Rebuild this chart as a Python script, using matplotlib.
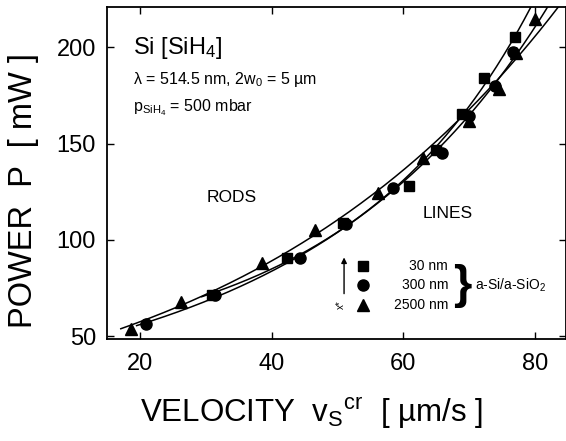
import numpy as np
import matplotlib
matplotlib.use("Agg")
import matplotlib.pyplot as plt

plt.rcParams['font.family'] = ['Liberation Sans', 'DejaVu Sans']
plt.rcParams['mathtext.fontset'] = 'custom'
plt.rcParams['mathtext.rm'] = 'Liberation Sans'
plt.rcParams['mathtext.it'] = 'Liberation Sans'

# critical velocity (um/s) and laser power (mW)
v_30 = [30.9, 42.3, 50.9, 60.8, 64.9, 68.9, 72.2, 76.9]
p_30 = [71.3, 90.4, 108.7, 127.8, 146.6, 165.2, 184.0, 205.2]
v_300 = [21.0, 31.4, 44.3, 51.3, 58.5, 65.8, 69.9, 73.9, 76.7]
p_300 = [56.5, 71.3, 90.4, 108.3, 127.0, 145.2, 164.3, 180.0, 197.4]
v_2500 = [18.6, 26.3, 38.5, 46.6, 56.2, 63.0, 69.9, 74.5, 77.1, 80.0]
p_2500 = [53.9, 67.8, 87.8, 105.2, 124.3, 142.6, 161.7, 178.3, 197.0, 214.8]

thickness = ['30 nm', '300 nm', '2500 nm']
markers = ['s', 'o', '^']
msizes = [7, 8, 8.5]

fig = plt.figure(figsize=(5.66, 4.41), dpi=100)
ax = fig.add_axes([0.189, 0.231, 0.811, 0.753])

series = [(v_30, p_30), (v_300, p_300), (v_2500, p_2500)]
for (v, p), m, ms in zip(series, markers, msizes):
    # smooth guide to the eye: quadratic fit of log(P)
    coef = np.polyfit(v, np.log(p), 2)
    vv = np.linspace(min(v) - 1.5, 84, 300)
    ax.plot(vv, np.exp(np.polyval(coef, vv)), color='black', lw=1.1, zorder=2)
    ax.plot(v, p, ls='none', marker=m, ms=ms, color='black', zorder=3)

ax.set_xlim(15, 84.7)
ax.set_ylim(48.4, 221)
ax.set_xticks([20, 40, 60, 80])
ax.set_yticks([50, 100, 150, 200])
ax.tick_params(direction='in', length=5, width=1, top=True, right=True,
               labelsize=17)
ax.tick_params(axis='x', pad=10)
ax.tick_params(axis='y', pad=8)
for s in ax.spines.values():
    s.set_linewidth(1.3)

fig.text(0.551, 0.043, r'VELOCITY  v$_\mathrm{S}$$^\mathrm{cr}$  [ µm/s ]', fontsize=22.5,
         ha='center', va='baseline')
fig.text(0.041, 0.569, 'POWER  P  [ mW ]', fontsize=23.5, rotation=90,
         ha='center', va='center')

ax.text(18.9, 196.5, r'Si [SiH$_\mathrm{4}$]', fontsize=17)
ax.text(18.9, 180.9, r'λ = 514.5 nm, 2w$_\mathrm{0}$ = 5 µm', fontsize=11.5)
ax.text(18.9, 167, r'p$_\mathrm{SiH_4}$ = 500 mbar', fontsize=11.5)
ax.text(33.9, 122, 'RODS', fontsize=12.5, ha='center', va='center')
ax.text(66.8, 113.7, 'LINES', fontsize=12.5, ha='center', va='center')

# legend block
leg_y = [86.3, 76.3, 66.3]
for y, m, ms, lab in zip(leg_y, markers, msizes, thickness):
    ax.plot([53.9], [y], ls='none', marker=m, ms=ms, color='black')
    ax.text(66.8, y, lab, fontsize=10, ha='right', va='center')
ax.text(67.6, 76.2, '}', fontsize=34, fontweight='bold', ha='left', va='center')
ax.text(70.9, 76.3, r'a-Si/a-SiO$_\mathrm{2}$', fontsize=10, ha='left', va='center')
ax.annotate('', xy=(51.0, 92.3), xytext=(51.0, 70.6),
            arrowprops=dict(arrowstyle='-|>', color='black', lw=1, mutation_scale=8))
ax.text(50.5, 66.3, 'x*', fontsize=7, rotation=90, ha='center', va='center')

fig.savefig('out.png', dpi=100)
